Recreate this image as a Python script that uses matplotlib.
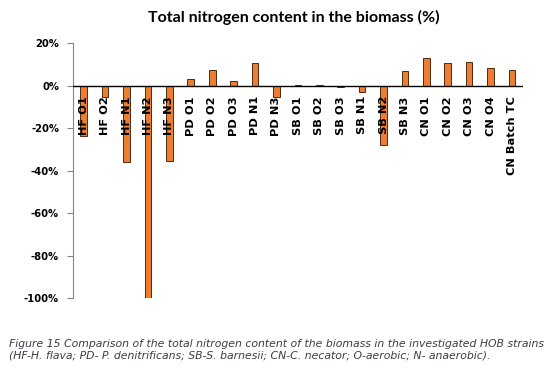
import numpy as np
import matplotlib.pyplot as plt

# Данные
categories = ['HF O1', 'HF O2', 'HF N1', 'HF N2', 'HF N3',
              'PD O1', 'PD O2', 'PD O3', 'PD N1', 'PD N3',
              'SB O1', 'SB O2', 'SB O3', 'SB N1', 'SB N2', 'SB N3',
              'CN O1', 'CN O2', 'CN O3', 'CN O4', 'CN Batch TC']
values = [-23.6, -5.3, -36.0, -100.0, -35.2,
          3.0, 7.5, 2.2, 10.5, -5.5,
          0.3, 0.2, -0.5, -2.7, -27.8, 7.0,
          13.0, 10.8, 11.3, 8.6, 7.5]
yticks = [20, 0, -20, -40, -60, -80, -100]
ytick_labels = ['20%', '0%', '-20%', '-40%', '-60%', '-80%', '-100%']

title = 'Total nitrogen content in the biomass (%)'
caption = ('Figure 15 Comparison of the total nitrogen content of the biomass in the investigated HOB strains\n'
           '(HF-H. flava; PD- P. denitrificans; SB-S. barnesii; CN-C. necator; O-aerobic; N- anaerobic).')

fig = plt.figure(figsize=(5.54, 3.71), dpi=100)
ax = fig.add_axes([73 / 554, 1 - 298.3 / 371, (522.7 - 73) / 554, (298.3 - 43.3) / 371])

x = np.arange(len(categories))
ax.bar(x, values, width=0.31, color='#ED7D31', edgecolor='#4a2a10', linewidth=0.7, zorder=2)

ax.set_xlim(-0.5, len(categories) - 0.5)
ax.set_ylim(-100, 20)
ax.axhline(0, color='black', linewidth=1.0, zorder=3)

ax.set_xticks([])
ax.set_yticks(yticks)
ax.set_yticklabels(ytick_labels, fontsize=7.2, fontweight='bold', family='DejaVu Sans')
ax.tick_params(axis='y', length=4, width=0.8, color='#868686', pad=6)

for s in ['top', 'right', 'bottom']:
    ax.spines[s].set_visible(False)
ax.spines['left'].set_color('#868686')
ax.spines['left'].set_linewidth(0.8)

# подписи категорий под нулевой линией
for xi, name in zip(x, categories):
    ax.annotate(name, (xi, 0), xytext=(0, -7.5), textcoords='offset points',
                rotation=90, ha='center', va='top', fontsize=8.2,
                fontweight='bold', family='DejaVu Sans', zorder=4)

fig.text(294 / 554, 1 - 17 / 371, title, ha='center', va='center',
         fontsize=11.5, fontweight='bold', family='Lato')

fig.text(9 / 554, 1 - 349.5 / 371, caption, ha='left', va='center',
         fontsize=7.8, style='italic', color='#3c3c48', family='DejaVu Sans',
         linespacing=1.2)

plt.savefig('out.png', dpi=100)
